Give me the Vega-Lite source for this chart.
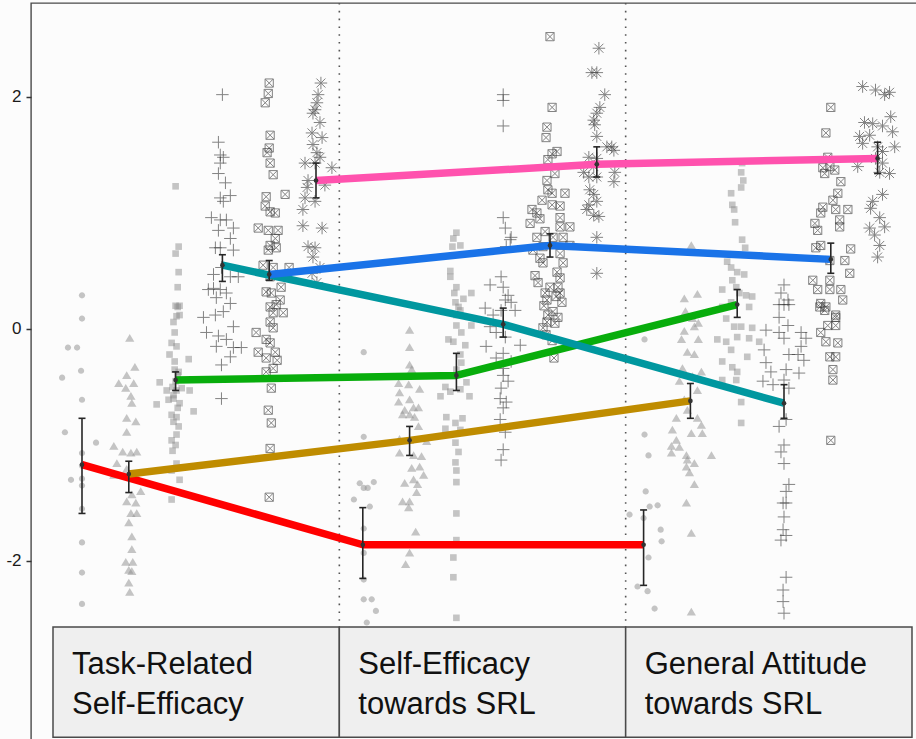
{
  "$schema": "https://vega.github.io/schema/vega-lite/v6.json",
  "width": 886,
  "height": 737,
  "autosize": {"type": "none"},
  "padding": {"left": 31, "top": 3, "right": 0, "bottom": 0},
  "background": "#fcfcfc",
  "config": {"view": {"stroke": "#4a4a4a", "strokeWidth": 1.4, "fill": "#fcfcfc"}},
  "datasets": {
    "bounds": [{"b": 1}, {"b": 2}],
    "strips": [
      {"s": 0, "e": 1, "lab": "Task-Related\nSelf-Efficacy"},
      {"s": 1, "e": 2, "lab": "Self-Efficacy\ntowards SRL"},
      {"s": 2, "e": 3, "lab": "General Attitude\ntowards SRL"}
    ],
    "means": [
      {"c":"T1","p":1,"m":-1.17,"lo":-1.59,"hi":-0.77},
      {"c":"T2","p":2,"m":-1.25,"lo":-1.41,"hi":-1.14},
      {"c":"T3","p":3,"m":-0.44,"lo":-0.53,"hi":-0.37},
      {"c":"T4","p":4,"m":0.55,"lo":0.41,"hi":0.64},
      {"c":"T5","p":5,"m":0.47,"lo":0.42,"hi":0.59},
      {"c":"T6","p":6,"m":1.28,"lo":1.13,"hi":1.43},
      {"c":"S1","p":1,"m":-1.86,"lo":-2.15,"hi":-1.54},
      {"c":"S2","p":2,"m":-0.96,"lo":-1.09,"hi":-0.84},
      {"c":"S3","p":3,"m":-0.40,"lo":-0.53,"hi":-0.21},
      {"c":"S4","p":4,"m":0.04,"lo":-0.07,"hi":0.18},
      {"c":"S5","p":5,"m":0.72,"lo":0.62,"hi":0.82},
      {"c":"S6","p":6,"m":1.42,"lo":1.31,"hi":1.57},
      {"c":"G1","p":1,"m":-1.86,"lo":-2.21,"hi":-1.56},
      {"c":"G2","p":2,"m":-0.62,"lo":-0.77,"hi":-0.47},
      {"c":"G3","p":3,"m":0.21,"lo":0.10,"hi":0.34},
      {"c":"G4","p":4,"m":-0.64,"lo":-0.77,"hi":-0.48},
      {"c":"G5","p":5,"m":0.60,"lo":0.48,"hi":0.74},
      {"c":"G6","p":6,"m":1.47,"lo":1.34,"hi":1.61}
    ],
    "pts": [
      {"c":"T1","p":1,"y":[0.29,0.09,-0.16,-0.16,-0.36,-0.42,-0.61,-0.89,-0.98,-1.07,-1.18,-1.29,-1.30,-1.35,-1.55,-1.84,-2.10,-2.37,-2.75],
        "j":[0,0,-0.6,-0.21,-0.04,-0.85,0,-0.73,0.6,0,0,0,-0.47,0,0,0,0,0,0]},
      {"c":"T2","p":2,"y":[-0.08,-0.33,-0.40,-0.47,-0.47,-0.51,-0.58,-0.64,-0.77,-0.80,-0.89,-1.01,-1.06,-1.06,-1.07,-1.16,-1.26,-1.21,-1.27,-1.40,-1.43,-1.49,-1.50,-1.59,-1.59,-1.67,-1.79,-1.90,-2.01,-2.01,-2.08,-2.09,-2.19,-2.27],
        "j":[0.04,0.26,-0.09,-0.43,0.21,-0.13,0.09,0.13,-0.09,0.3,-0.09,-0.64,-0.26,0.34,0.09,-0.51,-0.64,-0.09,0.34,0.51,0.13,-0.09,0.3,0.09,0.34,0,0.13,0.13,-0.13,0.17,0,0.13,0,0.04]},
      {"c":"T3","p":3,"y":[1.23,0.71,0.65,0.49,0.36,0.20,0.20,0.11,0.19,0.12,0.06,-0.03,-0.12,-0.15,-0.22,-0.26,-0.28,-0.35,-0.37,-0.46,-0.53,-0.53,-0.51,-0.53,-0.57,-0.65,-0.61,-0.64,-0.71,-0.74,-0.76,-0.84,-0.91,-0.96,-1.16,-1.22,-1.30,-1.47,-0.45,-0.50,-0.40,-0.60,-0.68,-1.00,-1.05,-0.80],
        "j":[0,0.13,0,0.13,0.09,0,0.17,0.04,0.09,0.17,-0.09,-0.04,-0.17,0.04,-0.26,0.56,-0.04,-0.04,0.13,-0.68,-0.38,0.04,0.26,0.6,-0.09,-0.81,-0.3,0.17,0.77,-0.17,0.04,0.13,0.04,-0.17,0.04,-0.17,0.17,-0.17,0,-0.13,0.09,-0.09,0.09,0,-0.13,-0.09]},
      {"c":"T4","p":4,"y":[2.02,1.61,1.50,1.48,1.43,1.34,1.26,1.13,1.10,1.15,0.96,0.94,0.94,0.87,0.85,0.78,0.70,0.70,0.68,0.53,0.47,0.45,0.45,0.35,0.34,0.34,0.31,0.27,0.22,0.12,0.10,0.15,0.02,-0.03,-0.06,-0.09,-0.15,-0.16,-0.16,-0.24,-0.31,-0.60],
        "j":[0,-0.17,-0.09,0.04,-0.09,-0.17,0.13,-0.09,0.04,0.34,-0.47,-0.09,0.17,0.47,-0.17,0.34,-0.3,-0.09,0.47,-0.04,-0.38,0.68,0.34,-0.38,-0.09,-0.6,0.17,-0.26,0.34,-0.3,-0.81,0.04,0.47,-0.68,-0.17,0.17,-0.26,0.47,0.81,0.34,-0.04,-0.04]},
      {"c":"T5","p":5,"y":[2.12,2.03,1.95,1.67,1.56,1.52,1.43,1.33,1.16,1.14,1.06,1.01,1.00,0.87,0.85,0.85,0.78,0.72,0.70,0.68,0.53,0.55,0.53,0.45,0.36,0.32,0.31,0.25,0.19,0.14,0.14,0.21,0.06,0.01,-0.03,-0.09,-0.12,-0.20,-0.20,-0.25,-0.27,-0.34,-0.37,-0.51,-0.70,-0.81,-1.03,-1.45],
        "j":[0,-0.04,-0.17,0.04,0,-0.09,0.04,0.17,0.68,-0.13,-0.17,0.04,0.26,-0.47,-0.04,0.38,0.26,0.04,0.3,-0.04,0.17,-0.26,0.85,0.04,0.51,-0.13,0.09,0.47,0.04,0.17,0.6,0.3,0.04,0.17,-0.56,-0.13,0.04,0.26,-0.47,-0.13,0.34,0.17,-0.13,0.09,-0.04,0.09,0.04,0]},
      {"c":"T6","p":6,"y":[2.12,2.02,1.95,1.89,1.86,1.78,1.69,1.65,1.59,1.52,1.48,1.43,1.43,1.39,1.28,1.24,1.22,1.13,1.10,1.03,0.89,0.87,0.71,0.70,0.62,0.53,0.48,0.40],
        "j":[0.21,0.09,0.04,-0.04,-0.13,0.17,-0.17,0.26,-0.13,0.04,0.17,-0.47,-0.04,0.68,-0.34,0.38,-0.38,-0.47,-0.04,-0.56,-0.56,0.26,-0.34,-0.04,-0.13,0.17,-0.17,0.04]},
      {"c":"S1","p":1,"y":[-0.20,-0.93,-1.33,-1.37,-1.37,-1.32,-1.47,-1.53,-1.72,-1.93,-2.16,-2.33,-2.33,-2.43,-2.53,-2.70,-2.90,-3.10],
        "j":[0.04,0.04,-0.13,0.04,0.21,0.47,-0.38,0.3,0.04,0.04,0.04,0.04,0.38,0.56,0.17,0,0.21,-0.13]},
      {"c":"S2","p":2,"y":[-0.01,-0.16,-0.31,-0.35,-0.47,-0.48,-0.52,-0.55,-0.61,-0.63,-0.70,-0.68,-0.68,-0.74,-0.74,-0.76,-0.84,-0.95,-0.96,-0.97,-1.07,-1.09,-1.10,-1.20,-1.19,-1.26,-1.33,-1.34,-1.30,-1.41,-1.49,-1.49,-1.54,-1.75,-1.93,-2.03],
        "j":[0,0,0,0.09,-0.47,-0.04,0.43,-0.43,0,-0.47,-0.21,0.17,0.38,-0.3,0,0.21,0.38,-0.43,0,0.73,-0.43,0.17,0.51,0.09,0.43,0.6,-0.21,0.34,0.17,0.3,-0.3,0,-0.04,0.26,0,-0.17]},
      {"c":"S3","p":3,"y":[0.83,0.78,0.72,0.71,0.50,0.45,0.36,0.31,0.26,0.31,0.23,0.19,0.12,0.16,0.03,0.03,-0.03,-0.09,-0.11,-0.14,-0.22,-0.29,-0.35,-0.46,-0.50,-0.58,-0.54,-0.52,-0.58,-0.76,-0.77,-0.81,-0.86,-0.87,-0.98,-1.06,-1.15,-1.22,-1.32,-1.59,-1.82,-1.97,-2.14,-2.49],
        "j":[0,-0.13,0.17,-0.17,-0.26,-0.26,0,-0.09,0.3,0.64,-0.04,0.09,0,0.17,0,0.64,0.21,-0.34,-0.13,0.38,0.17,0.21,0,0.43,-0.47,-0.68,-0.26,0.17,0.56,-0.43,0.26,-0.04,-0.47,0.17,-0.04,0.09,-0.04,0,0,0,0,-0.13,-0.13,0]},
      {"c":"S4","p":4,"y":[2.02,1.97,1.75,0.96,0.87,0.79,0.77,0.71,0.38,0.45,0.36,0.29,0.25,0.23,0.18,0.16,0.12,0.16,0.02,-0.03,-0.07,-0.15,-0.14,-0.21,-0.25,-0.28,-0.34,-0.40,-0.45,-0.51,-0.60,-0.63,-0.68,-0.78,-0.89,-1.04,-1.13],
        "j":[0,0,0,0,0.09,0.34,0.3,0.13,-0.56,-0.09,0,0.21,0.09,0.34,-0.77,-0.09,-0.43,0.51,-0.56,-0.3,0.09,-0.73,0.73,0,-0.3,0.34,0,0,0.21,-0.09,-0.13,0.13,0,-0.13,0.09,0,-0.09]},
      {"c":"S5","p":5,"y":[2.52,1.91,1.74,1.65,1.53,1.51,1.46,1.28,1.34,1.20,1.17,1.17,1.11,1.03,1.00,1.07,1.06,0.95,0.91,0.96,0.88,0.84,0.88,0.79,0.79,0.79,0.71,0.68,0.72,0.65,0.61,0.57,0.57,0.49,0.46,0.44,0.40,0.36,0.36,0.31,0.31,0.25,0.23,0.12,0.10,0.01,-0.25,0.06,0.05,-0.05,0.15,0.20,-0.10,0.28],
        "j":[0,0.09,-0.13,-0.17,0.3,0.09,-0.09,-0.13,0.21,-0.09,0.09,0.64,-0.34,-0.77,-0.56,0.09,0.43,-0.43,-0.85,0.43,0.85,-0.21,0.43,-0.56,0.13,0.56,-0.3,-0.73,0.85,0.43,-0.43,0.56,-0.3,0.3,-0.64,0.43,-0.51,0,0.34,-0.21,0.43,-0.13,0.51,-0.09,0.34,-0.3,0.17,-0.13,0.21,-0.17,0.13,-0.26,0.09,0.26]},
      {"c":"S6","p":6,"y":[2.42,2.21,2.21,2.02,1.91,1.86,1.80,1.76,1.66,1.57,1.54,1.57,1.48,1.47,1.40,1.35,1.31,1.31,1.35,1.27,1.20,1.16,1.10,1.07,1.03,0.98,0.97,0.79,0.48],
        "j":[0.09,-0.21,0,0.34,0.13,0,-0.13,-0.09,0,0.43,0.73,0.64,-0.34,0,-0.13,-0.56,-0.34,0,0.77,0.73,-0.3,-0.13,0,-0.34,-0.43,-0.13,0.09,0,0]},
      {"c":"G1","p":1,"y":[-0.09,-0.91,-1.09,-1.40,-1.53,-1.52,-1.60,-1.63,-1.73,-1.83,-1.97,-2.22,-2.26,-2.41,-2.70,-2.90,-3.00,-3.20],
        "j":[0.04,0.04,0.21,0.09,0.26,0.6,-0.6,0,0.73,0.77,0.21,-0.26,0.17,0.47,0.13,-0.21,0.34,0]},
      {"c":"G2","p":2,"y":[0.72,0.26,0.30,0.09,-0.02,0.02,-0.09,-0.09,-0.20,-0.22,-0.34,-0.37,-0.41,-0.45,-0.53,-0.61,-0.70,-0.77,-0.77,-0.83,-0.87,-0.90,-0.90,-0.96,-1.01,-1.02,-1.07,-1.09,-1.09,-1.13,-1.16,-1.19,-1.24,-1.34,-1.50,-1.76,-2.44,0.15,0.05],
        "j":[0.04,-0.26,0.3,0.09,-0.26,0.17,-0.38,0.34,-0.13,0.17,-0.34,0.47,0.09,-0.47,0.3,-0.26,-0.13,-0.6,0.3,0.47,-0.77,0.04,0.51,-0.6,-0.81,-0.47,-0.81,-0.17,0.9,-0.13,0.17,-0.17,-0.04,0.17,-0.17,0.04,0.04,-0.21,0.34]},
      {"c":"G3","p":3,"y":[1.43,1.35,1.28,1.22,1.17,1.07,1.03,0.92,0.77,0.70,0.58,0.53,0.49,0.47,0.42,0.36,0.34,0.31,0.29,0.28,0.23,0.19,0.19,0.20,0.09,0.02,0.02,0.01,-0.09,-0.11,-0.07,-0.08,-0.18,-0.11,-0.28,-0.33,-0.24,-0.37,-0.44,-0.44,-0.63,-0.81],
        "j":[0.21,0.17,0.26,0.17,-0.26,-0.21,-0.13,-0.09,0.21,0.34,-0.43,-0.26,0,0.3,-0.21,-0.04,-0.64,0.09,0.38,0.64,-0.26,0.51,-0.64,-0.13,-0.47,-0.13,0.17,0.64,-0.85,-0.47,0,0.51,-0.26,0.94,-0.64,-0.21,0.43,0,-0.64,-0.04,0.17,0.17]},
      {"c":"G4","p":4,"y":[0.38,0.31,0.25,0.21,0.21,0.21,0.10,0.03,-0.01,-0.03,-0.08,-0.03,-0.08,-0.18,-0.22,-0.15,-0.22,-0.27,-0.29,-0.37,-0.35,-0.38,-0.45,-0.48,-0.44,-0.51,-0.84,-0.78,-1.00,-1.06,-1.16,-1.34,-1.40,-1.50,-1.50,-1.62,-1.73,-1.78,-1.82,-2.14,-2.25,-2.35,-2.45],
        "j":[0,-0.13,0.17,-0.21,0,0.21,-0.21,0.17,-0.77,-0.21,0,0.73,0.94,-0.85,0.21,0.73,0.6,0.85,-0.77,-0.56,0.09,0.64,-0.9,-0.47,0,0.21,-0.21,0.09,0,-0.13,0,0.21,0.09,-0.04,0.09,0,-0.04,0.09,-0.13,0.09,-0.04,-0.04,0]},
      {"c":"G5","p":5,"y":[1.91,1.69,1.48,1.39,1.40,1.37,1.27,1.34,1.17,1.11,1.05,1.03,1.03,0.91,1.00,0.94,0.85,0.88,0.69,0.70,0.72,0.59,0.59,0.48,0.42,0.42,0.34,0.34,0.34,0.25,0.22,0.16,0.12,0.10,0.03,0.03,0.19,0.19,-0.03,-0.11,-0.12,-0.24,-0.24,-0.35,-0.44,-0.96],
        "j":[0,-0.21,-0.13,-0.34,-0.04,0.17,0.43,-0.26,0.3,0.09,-0.34,0.73,0.21,-0.68,-0.43,0.38,-0.56,0.38,0.85,-0.64,-0.43,-0.04,0.6,0.81,-0.77,-0.04,-0.56,-0.04,0.43,0.51,-0.43,-0.26,0.21,0.21,-0.13,0.21,-0.47,-0.21,-0.43,-0.21,0.3,-0.04,0.21,0.09,0.09,0]},
      {"c":"G6","p":6,"y":[2.09,2.06,2.02,2.04,1.83,1.78,1.77,1.75,1.66,1.67,1.70,1.60,1.57,1.53,1.57,1.47,1.40,1.43,1.34,1.35,1.16,1.10,1.04,0.96,0.88,0.87,0.81,0.72,0.62],
        "j":[-0.64,-0.09,0.3,0.51,0.56,-0.56,-0.21,0.21,-0.77,-0.34,0.64,-0.64,0.73,0.21,0,-0.09,-0.85,0.21,0.51,0.09,0.21,-0.21,-0.3,0.09,0.3,-0.34,-0.13,0.09,0]}
    ]
  },
  "resolve": {"scale": {"x": "independent"}},
  "layer": [
    {
      "data": {"name": "bounds"},
      "mark": {"type": "rule", "stroke": "#555555", "strokeWidth": 1.6, "strokeDash": [1.6, 6.2]},
      "encoding": {
        "x": {"field": "b", "type": "quantitative", "scale": {"domain": [-0.07683, 3.01746], "nice": false, "zero": false}, "axis": null},
        "y": {"datum": 2.81, "type": "quantitative", "scale": {"domain": [-3.543, 2.81], "nice": false, "zero": false},
          "axis": {"title": null, "orient": "left", "values": [-2, 0, 2], "labelExpr": "'' + datum.value", "domain": false, "grid": false, "tickSize": 5, "tickWidth": 1.5, "tickColor": "#333333", "labelFontSize": 17, "labelFont": "Liberation Sans", "labelColor": "#1a1a1a", "labelPadding": 5}},
        "y2": {"datum": -2.569}
      }
    },
    {
      "layer": [
        {
          "data": {"name": "pts"},
          "transform": [{"flatten": ["y", "j"]}, {"filter": "datum.p <= 3"}],
          "mark": {"type": "point", "filled": true, "fill": "#8c8c8c", "opacity": 0.5, "strokeWidth": 0, "size": 100},
          "encoding": {
            "x": {"field": "c", "type": "nominal", "scale": {"type": "band", "domain": ["T1","T2","T3","T4","T5","T6","S1","S2","S3","S4","S5","S6","G1","G2","G3","G4","G5","G6"], "paddingInner": 0, "paddingOuter": 0.4658, "align": 0.633}, "axis": null},
            "xOffset": {"field": "j", "type": "quantitative", "scale": {"domain": [-1, 1], "nice": false, "zero": false}},
            "y": {"field": "y", "type": "quantitative", "scale": {"domain": [-3.543, 2.81], "nice": false, "zero": false},
              "axis": {"title": null, "orient": "left", "values": [-2, 0, 2], "labelExpr": "'' + datum.value", "domain": false, "grid": false, "tickSize": 5, "tickWidth": 1.5, "tickColor": "#333333", "labelFontSize": 17, "labelFont": "Liberation Sans", "labelColor": "#1a1a1a", "labelPadding": 5}},
            "shape": {"field": "p", "type": "nominal", "scale": {"domain": [1,2,3,4,5,6], "range": [
              "M-0.62,0A0.62,0.62 0 1,1 0.62,0A0.62,0.62 0 1,1 -0.62,0Z",
              "M0,-0.85L0.92,0.7L-0.92,0.7Z",
              "M-0.66,-0.66H0.66V0.66H-0.66Z",
              "M-1.25,0H1.25M0,-1.25V1.25",
              "M-0.82,-0.82H0.82V0.82H-0.82ZM-0.82,-0.82L0.82,0.82M-0.82,0.82L0.82,-0.82",
              "M-1.25,0H1.25M0,-1.25V1.25M-0.9,-0.9L0.9,0.9M-0.9,0.9L0.9,-0.9"]}, "legend": null}
          }
        },
        {
          "data": {"name": "pts"},
          "transform": [{"flatten": ["y", "j"]}, {"filter": "datum.p >= 4"}],
          "mark": {"type": "point", "filled": false, "color": "#333333", "stroke": "#333333", "strokeWidth": 1, "opacity": 0.6, "size": 100},
          "encoding": {
            "x": {"field": "c", "type": "nominal", "axis": null},
            "xOffset": {"field": "j", "type": "quantitative"},
            "y": {"field": "y", "type": "quantitative",
              "axis": {"title": null, "orient": "left", "values": [-2, 0, 2], "labelExpr": "'' + datum.value", "domain": false, "grid": false, "tickSize": 5, "tickWidth": 1.5, "tickColor": "#333333", "labelFontSize": 17, "labelFont": "Liberation Sans", "labelColor": "#1a1a1a", "labelPadding": 5}},
            "shape": {"field": "p", "type": "nominal", "legend": null}
          }
        },
        {
          "data": {"name": "means"},
          "mark": {"type": "line", "strokeWidth": 7.5, "strokeCap": "butt", "strokeJoin": "round"},
          "encoding": {
            "x": {"field": "c", "type": "nominal", "bandPosition": 0.5, "axis": null},
            "y": {"field": "m", "type": "quantitative",
              "axis": {"title": null, "orient": "left", "values": [-2, 0, 2], "labelExpr": "'' + datum.value", "domain": false, "grid": false, "tickSize": 5, "tickWidth": 1.5, "tickColor": "#333333", "labelFontSize": 17, "labelFont": "Liberation Sans", "labelColor": "#1a1a1a", "labelPadding": 5}},
            "color": {"field": "p", "type": "nominal", "scale": {"domain": [1,2,3,4,5,6], "range": ["#ff0000", "#bf8c00", "#08ad0c", "#00979f", "#1a73e8", "#ff52ae"]}, "legend": null}
          }
        },
        {
          "data": {"name": "means"},
          "mark": {"type": "rule", "stroke": "#262626", "strokeWidth": 1.6},
          "encoding": {
            "x": {"field": "c", "type": "nominal", "bandPosition": 0.5, "axis": null},
            "y": {"field": "lo", "type": "quantitative",
              "axis": {"title": null, "orient": "left", "values": [-2, 0, 2], "labelExpr": "'' + datum.value", "domain": false, "grid": false, "tickSize": 5, "tickWidth": 1.5, "tickColor": "#333333", "labelFontSize": 17, "labelFont": "Liberation Sans", "labelColor": "#1a1a1a", "labelPadding": 5}},
            "y2": {"field": "hi"}
          }
        },
        {
          "data": {"name": "means"},
          "mark": {"type": "point", "shape": "M-1,0H1", "size": 49, "filled": false, "stroke": "#262626", "strokeWidth": 1.6, "opacity": 1},
          "encoding": {
            "x": {"field": "c", "type": "nominal", "bandPosition": 0.5, "axis": null},
            "y": {"field": "lo", "type": "quantitative",
              "axis": {"title": null, "orient": "left", "values": [-2, 0, 2], "labelExpr": "'' + datum.value", "domain": false, "grid": false, "tickSize": 5, "tickWidth": 1.5, "tickColor": "#333333", "labelFontSize": 17, "labelFont": "Liberation Sans", "labelColor": "#1a1a1a", "labelPadding": 5}}
          }
        },
        {
          "data": {"name": "means"},
          "mark": {"type": "point", "shape": "M-1,0H1", "size": 49, "filled": false, "stroke": "#262626", "strokeWidth": 1.6, "opacity": 1},
          "encoding": {
            "x": {"field": "c", "type": "nominal", "bandPosition": 0.5, "axis": null},
            "y": {"field": "hi", "type": "quantitative",
              "axis": {"title": null, "orient": "left", "values": [-2, 0, 2], "labelExpr": "'' + datum.value", "domain": false, "grid": false, "tickSize": 5, "tickWidth": 1.5, "tickColor": "#333333", "labelFontSize": 17, "labelFont": "Liberation Sans", "labelColor": "#1a1a1a", "labelPadding": 5}}
          }
        },
        {
          "data": {"name": "means"},
          "mark": {"type": "point", "shape": "circle", "size": 22, "filled": true, "fill": "#333333", "opacity": 1},
          "encoding": {
            "x": {"field": "c", "type": "nominal", "bandPosition": 0.5, "axis": null},
            "y": {"field": "m", "type": "quantitative",
              "axis": {"title": null, "orient": "left", "values": [-2, 0, 2], "labelExpr": "'' + datum.value", "domain": false, "grid": false, "tickSize": 5, "tickWidth": 1.5, "tickColor": "#333333", "labelFontSize": 17, "labelFont": "Liberation Sans", "labelColor": "#1a1a1a", "labelPadding": 5}}
          }
        }
      ]
    },
    {
      "data": {"name": "strips"},
      "layer": [
        {
          "mark": {"type": "rect", "fill": "#efefef", "stroke": "#4a4a4a", "strokeWidth": 1.5},
          "encoding": {
            "x": {"field": "s", "type": "quantitative", "scale": {"domain": [-0.07683, 3.01746], "nice": false, "zero": false}, "axis": null},
            "x2": {"field": "e"},
            "y": {"datum": -2.569, "type": "quantitative",
              "axis": {"title": null, "orient": "left", "values": [-2, 0, 2], "labelExpr": "'' + datum.value", "domain": false, "grid": false, "tickSize": 5, "tickWidth": 1.5, "tickColor": "#333333", "labelFontSize": 17, "labelFont": "Liberation Sans", "labelColor": "#1a1a1a", "labelPadding": 5}},
            "y2": {"datum": -3.52}
          }
        },
        {
          "mark": {"type": "text", "align": "left", "baseline": "alphabetic", "dx": 19, "fontSize": 31, "font": "Liberation Sans", "lineHeight": 40, "lineBreak": "\n", "fill": "#111111"},
          "encoding": {
            "x": {"field": "s", "type": "quantitative", "axis": null},
            "y": {"datum": -2.975, "type": "quantitative",
              "axis": {"title": null, "orient": "left", "values": [-2, 0, 2], "labelExpr": "'' + datum.value", "domain": false, "grid": false, "tickSize": 5, "tickWidth": 1.5, "tickColor": "#333333", "labelFontSize": 17, "labelFont": "Liberation Sans", "labelColor": "#1a1a1a", "labelPadding": 5}},
            "text": {"field": "lab", "type": "nominal"}
          }
        }
      ]
    }
  ]
}
